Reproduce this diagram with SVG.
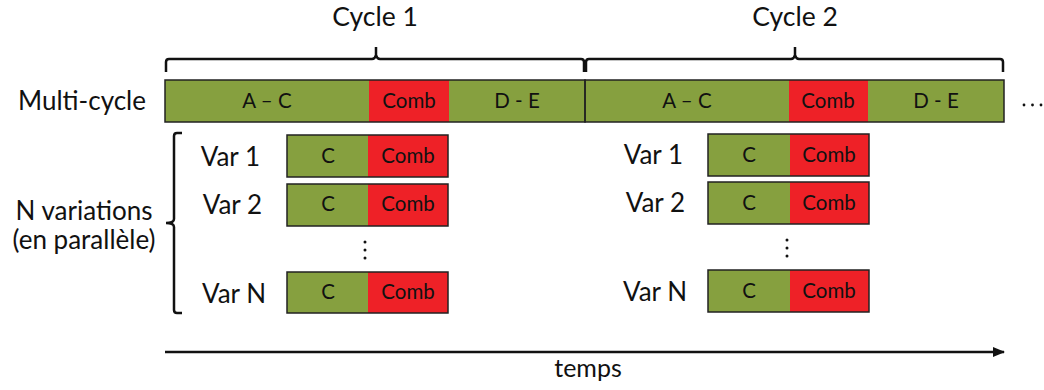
<svg xmlns="http://www.w3.org/2000/svg" width="1044" height="390" viewBox="0 0 1044 390">
<defs>
<style>
text{font-family:Lato,"Open Sans","Liberation Sans",sans-serif;fill:#111}
.g{fill:#86a03f}
.r{fill:#ee2127}
.box{fill:none;stroke:#222;stroke-width:1.5}
.in{font-size:20.5px;text-anchor:middle}
.lab{font-size:26px}
.br{fill:none;stroke:#111;stroke-width:2.5}
.dot{fill:#111}
</style>
<marker id="ah" viewBox="0 0 10 10" refX="9" refY="5" markerWidth="5" markerHeight="5" orient="auto"><path d="M0,1 L10,5 L0,9 z" fill="#111"/></marker>
</defs>
<rect width="1044" height="390" fill="#fff"/>
<g id="cycle1-label"><text x="375" y="26" font-size="26.5" text-anchor="middle">Cycle 1</text></g>
<g id="cycle2-label"><text x="795" y="26" font-size="26.5" text-anchor="middle">Cycle 2</text></g>
<g id="braces">
<path class="br" d="M166,72 V62 Q166,59 169,59 H372 Q375,59 376,55 V47 M376,47 V55 Q377,59 380,59 H581 Q584,59 584,62 V72"/>
<path class="br" d="M586,72 V62 Q586,59 589,59 H791 Q794,59 795,55 V47 M795,47 V55 Q796,59 799,59 H1000 Q1003,59 1003,62 V72"/>
<path class="br" d="M182,133 H177 Q174,133 174,136 V219 Q174,223 166,223 Q174,223 174,227 V310 Q174,313 177,313 H182"/>
</g>
<g id="multicycle">
<text class="lab" x="18" y="110">Multi-cycle</text>
<rect class="g" x="165" y="80" width="204" height="42"/>
<rect class="r" x="369" y="80" width="80" height="42"/>
<rect class="g" x="449" y="80" width="136" height="42"/>
<rect class="g" x="585" y="80" width="204" height="42"/>
<rect class="r" x="789" y="80" width="79" height="42"/>
<rect class="g" x="868" y="80" width="136" height="42"/>
<rect class="box" x="165" y="80" width="420" height="42"/>
<rect class="box" x="585" y="80" width="419" height="42"/>
<text class="in" x="267" y="108">A – C</text>
<text class="in" x="409" y="108">Comb</text>
<text class="in" x="517" y="108">D - E</text>
<text class="in" x="687" y="108">A – C</text>
<text class="in" x="828" y="108">Comb</text>
<text class="in" x="936" y="108">D - E</text>
<circle class="dot" cx="1024" cy="105" r="1.4"/><circle class="dot" cx="1032.5" cy="105" r="1.4"/><circle class="dot" cx="1041" cy="105" r="1.4"/>
</g>
<g id="nvariations">
<text class="lab" x="84" y="220" text-anchor="middle">N variations</text>
<text class="lab" x="84" y="249" text-anchor="middle">(en parallèle)</text>
</g>
<g id="set1">
<text class="lab" x="260" y="166" text-anchor="end">Var 1</text>
<rect class="g" x="287" y="135" width="81" height="42"/><rect class="r" x="368" y="135" width="80" height="42"/><rect class="box" x="287" y="135" width="161" height="42"/>
<text class="in" x="328" y="163">C</text><text class="in" x="408" y="163">Comb</text>
<text class="lab" x="262" y="214" text-anchor="end">Var 2</text>
<rect class="g" x="287" y="184" width="81" height="42"/><rect class="r" x="368" y="184" width="80" height="42"/><rect class="box" x="287" y="184" width="161" height="42"/>
<text class="in" x="328" y="211">C</text><text class="in" x="408" y="211">Comb</text>
<circle class="dot" cx="365" cy="242" r="1.5"/><circle class="dot" cx="365" cy="250" r="1.5"/><circle class="dot" cx="365" cy="258" r="1.5"/>
<text class="lab" x="266" y="303" text-anchor="end">Var N</text>
<rect class="g" x="287" y="272" width="81" height="41"/><rect class="r" x="368" y="272" width="80" height="41"/><rect class="box" x="287" y="272" width="161" height="41"/>
<text class="in" x="328" y="299">C</text><text class="in" x="408" y="299">Comb</text>
</g>
<g id="set2">
<text class="lab" x="683" y="164" text-anchor="end">Var 1</text>
<rect class="g" x="708" y="134" width="82" height="42"/><rect class="r" x="790" y="134" width="79" height="42"/><rect class="box" x="708" y="134" width="161" height="42"/>
<text class="in" x="749" y="162">C</text><text class="in" x="829" y="162">Comb</text>
<text class="lab" x="685" y="212" text-anchor="end">Var 2</text>
<rect class="g" x="708" y="182" width="82" height="42"/><rect class="r" x="790" y="182" width="79" height="42"/><rect class="box" x="708" y="182" width="161" height="42"/>
<text class="in" x="749" y="210">C</text><text class="in" x="829" y="210">Comb</text>
<circle class="dot" cx="787" cy="240" r="1.5"/><circle class="dot" cx="787" cy="248" r="1.5"/><circle class="dot" cx="787" cy="256" r="1.5"/>
<text class="lab" x="687" y="301" text-anchor="end">Var N</text>
<rect class="g" x="708" y="270" width="82" height="42"/><rect class="r" x="790" y="270" width="79" height="42"/><rect class="box" x="708" y="270" width="161" height="42"/>
<text class="in" x="749" y="298">C</text><text class="in" x="829" y="298">Comb</text>
</g>
<g id="connectors">
<line x1="165" y1="352" x2="1004" y2="352" stroke="#111" stroke-width="2.5" marker-end="url(#ah)"/>
</g>
<g id="temps"><text x="588" y="377" font-size="25" text-anchor="middle">temps</text></g>
</svg>
